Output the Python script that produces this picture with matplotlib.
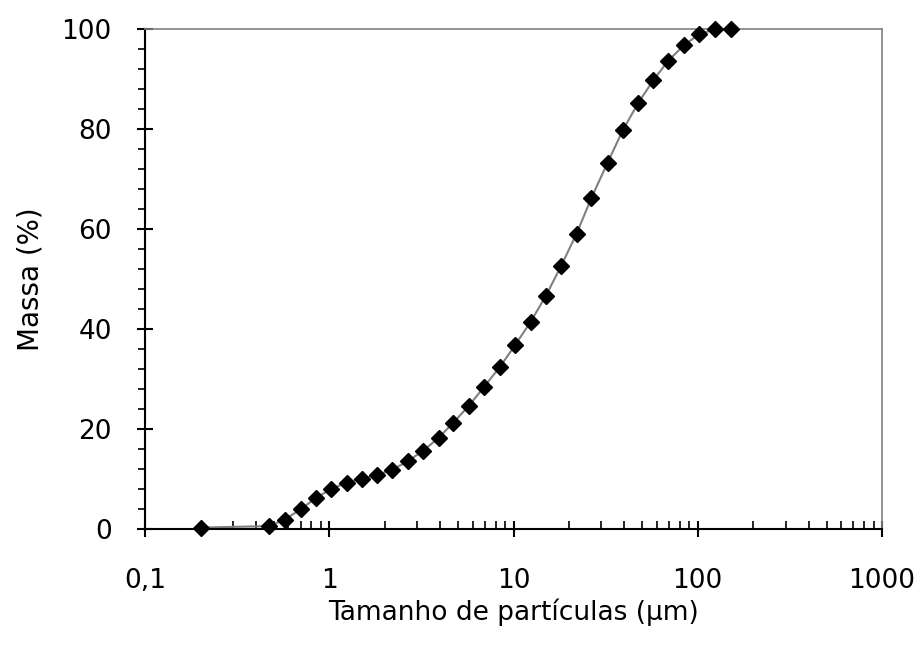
import numpy as np
import matplotlib
matplotlib.use('Agg')
import matplotlib.pyplot as plt
from matplotlib.ticker import FixedLocator, MultipleLocator, FuncFormatter, LogLocator

plt.rcParams['font.family'] = ['DejaVu Sans']

# particle size distribution (cumulative)
tamanho = [0.2, 0.47, 0.575, 0.70, 0.845, 1.02, 1.24, 1.50, 1.81, 2.20, 2.67,
           3.24, 3.93, 4.71, 5.73, 6.94, 8.45, 10.2, 12.4, 15.0, 18.1, 22.0,
           26.5, 32.4, 39.2, 47.6, 57.4, 69.2, 84.1, 101.9, 124, 151]
massa = [0.3, 0.6, 1.9, 4.0, 6.2, 8.0, 9.3, 10.1, 10.8, 11.9, 13.6,
         15.7, 18.3, 21.3, 24.7, 28.5, 32.5, 36.8, 41.5, 46.7, 52.6, 59.1,
         66.3, 73.3, 79.8, 85.3, 89.8, 93.7, 96.8, 99.0, 100, 100]

fig = plt.figure(figsize=(9.24, 6.5), dpi=100)
ax = fig.add_axes([0.157, 0.186, 0.7975, 0.769])

ax.plot(tamanho, massa, color='#808080', lw=1.5, zorder=2)
ax.plot(tamanho, massa, ls='none', marker='D', ms=8.3, mew=1, color='black',
        zorder=3, clip_on=False)

ax.set_xscale('log')
ax.set_xlim(0.1, 1000)
ax.set_ylim(0, 100)

ax.xaxis.set_major_locator(FixedLocator([0.1, 1, 10, 100, 1000]))
ax.xaxis.set_major_formatter(FuncFormatter(lambda v, p: ('%g' % v).replace('.', ',')))
ax.xaxis.set_minor_locator(LogLocator(base=10, subs=np.arange(2, 10), numticks=20))
ax.yaxis.set_major_locator(MultipleLocator(20))
ax.yaxis.set_minor_locator(MultipleLocator(4))

ax.tick_params(axis='x', which='major', direction='inout', length=12, width=1.5,
               labelsize=19, pad=22, color='black')
ax.tick_params(axis='x', which='minor', direction='in', length=6, width=1.2)
ax.tick_params(axis='y', which='major', direction='inout', length=12, width=1.5,
               labelsize=19, pad=18)
ax.tick_params(axis='y', which='minor', direction='out', length=5, width=1.2)

for s in ['left', 'bottom']:
    ax.spines[s].set_linewidth(1.5)
    ax.spines[s].set_color('black')
for s in ['top', 'right']:
    ax.spines[s].set_linewidth(1.2)
    ax.spines[s].set_color('#808080')

ax.set_xlabel('Tamanho de partículas (µm)', fontsize=19, labelpad=3)
ax.set_ylabel('Massa (%)', fontsize=20, labelpad=12)

fig.savefig('out.png', dpi=100)
